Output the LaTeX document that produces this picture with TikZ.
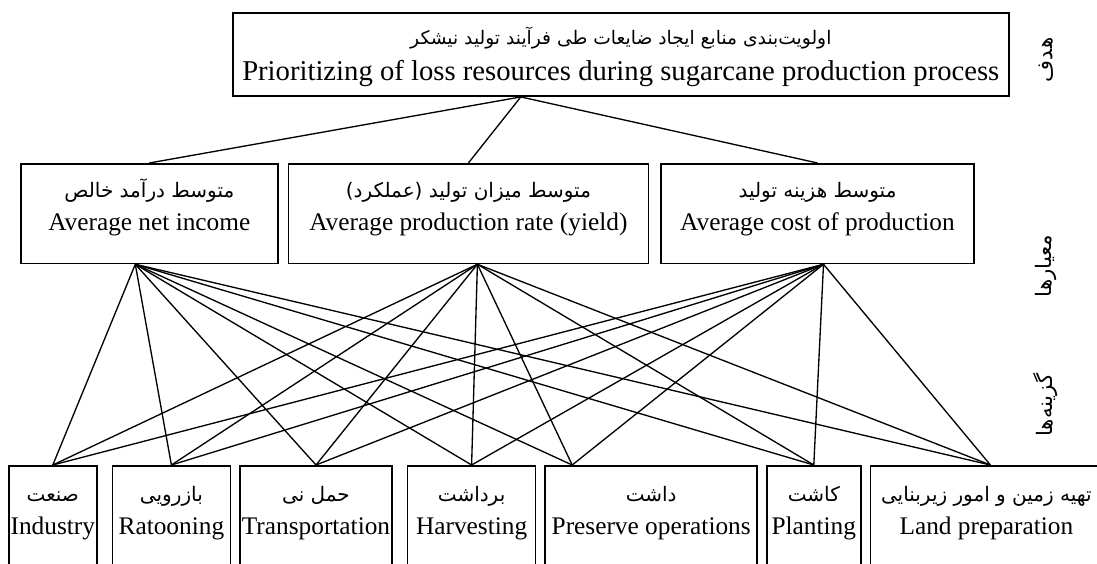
\documentclass[tikz,border=0pt]{standalone}
\usepackage{fontspec}
\usepackage{tikz}
\usepackage{xcolor}
\usetikzlibrary{positioning,calc}
\setmainfont{Liberation Serif}
\newfontfamily\farsi[Script=Arabic]{DejaVu Sans}
\TeXXeTstate=1
\newcommand{\fa}[2][15]{{\farsi\fontsize{#1}{24.75}\selectfont\beginR #2\endR}}
\newcommand{\TwoLines}[5][15]{\rule{0pt}{#4}\fa[#1]{#2}\\#3\rule[-#5]{0pt}{#5}}

\begin{document}
\begin{tikzpicture}[x=0.75pt,y=-0.75pt,
	Box/.style={draw, line width=1.2pt, inner xsep=1pt, inner ysep=3pt, align=center, font=\fontsize{19}{24.75}\selectfont},
	Level/.style={rotate=90, font=\farsi\fontsize{16}{18}\selectfont},
	Link/.style={line width=1pt}]
	%\draw[help lines] (0,0) grid (1097,564);
	\useasboundingbox (0,0) rectangle (1097,564);
	
	% goal
	\node[Box, anchor=north west, minimum width=582pt, font=\fontsize{21.5}{26.5}\selectfont] (goal) at (232,12)
		{\TwoLines[14]{اولویت^^^^200cبندی منابع ایجاد ضایعات طی فرآیند تولید نیشکر}{Prioritizing of loss resources during sugarcane production process}{21pt}{9pt}};
	
	% criteria
	\node[Box, anchor=north west, minimum width=192.75pt] (inc) at (20,163)
		{\TwoLines{متوسط درآمد خالص}{Average net income}{22pt}{22pt}};
	\node[Box, right=6.75pt of inc, minimum width=270pt] (yld)
		{\TwoLines{متوسط میزان تولید (عملکرد)}{Average production rate (yield)}{22pt}{22pt}};
	\node[Box, right=8.25pt of yld, minimum width=234.75pt] (cst)
		{\TwoLines{متوسط هزینه تولید}{Average cost of production}{22pt}{22pt}};
	
	% alternatives
	\node[Box, anchor=north west, minimum width=66pt] (ind) at (8,465)
		{\TwoLines{صنعت}{Industry}{24pt}{60pt}};
	\node[Box, right=10.5pt of ind, minimum width=88.5pt] (rat)
		{\TwoLines{بازرویی}{Ratooning}{24pt}{60pt}};
	\node[Box, right=6pt of rat, minimum width=114pt] (trn)
		{\TwoLines{حمل نی}{Transportation}{24pt}{60pt}};
	\node[Box, right=10.5pt of trn, minimum width=96pt] (hrv)
		{\TwoLines{برداشت}{Harvesting}{24pt}{60pt}};
	\node[Box, right=6pt of hrv, minimum width=159pt] (prs)
		{\TwoLines{داشت}{Preserve operations}{24pt}{60pt}};
	\node[Box, right=6pt of prs, minimum width=70.5pt] (pln)
		{\TwoLines{کاشت}{Planting}{24pt}{60pt}};
	\node[Box, right=6pt of pln, minimum width=174pt] (lnd)
		{\TwoLines{تهیه زمین و امور زیربنایی}{Land preparation}{24pt}{60pt}};
	
	% levels
	\node[Level] (lgoal) at (1046,60) {\beginR هدف\endR};
	\node[Level] (lcrit) at (1046,266) {\beginR معیارها\endR};
	\node[Level] (lalt) at (1046,405) {\beginR گزینه^^^^200cها\endR};
	
	\coordinate (goal-out) at ($(goal.south)+(-100,0)$);
	\coordinate (inc-out) at ($(inc.south)+(-14,0)$);
	\coordinate (yld-out) at ($(yld.south)+(9,0)$);
	\coordinate (cst-out) at ($(cst.south)+(6,0)$);
	\coordinate (prs-in) at ($(prs.north)+(-79,0)$);
	\coordinate (lnd-in) at ($(lnd.north)+(4,0)$);
	
	\foreach \c in {inc,yld,cst}{\draw[Link] (goal-out) -- (\c.north);}
	\foreach \c in {inc,yld,cst}
		\foreach \a in {ind.north,rat.north,trn.north,hrv.north,prs-in,pln.north,lnd-in}
			{\draw[Link] (\c-out) -- (\a);}
\end{tikzpicture}
\end{document}
